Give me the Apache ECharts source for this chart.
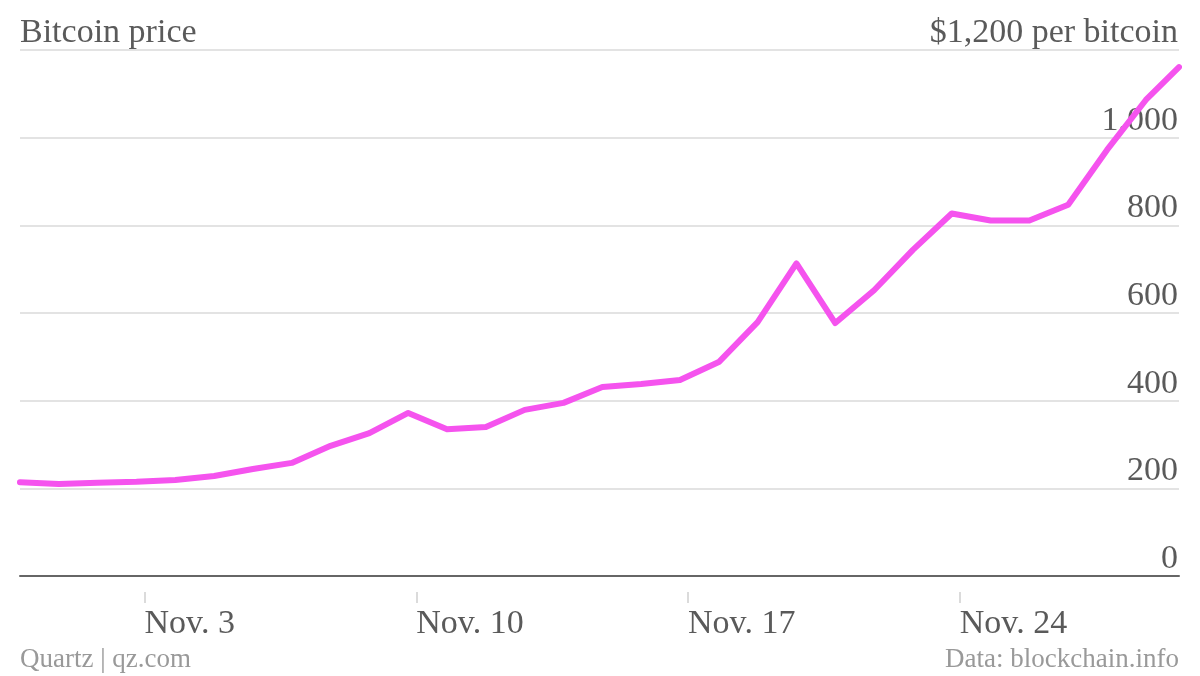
<!DOCTYPE html>
<html>
<head>
<meta charset="utf-8">
<script src="https://cdn.jsdelivr.net/npm/echarts@6/dist/echarts.min.js"></script>
<style>
  html, body { margin: 0; padding: 0; background: #fff; }
  #chart { width: 1200px; height: 676px; }
</style>
</head>
<body>
<div id="chart"></div>
<script>
// Observation times (UTC); the last one is an intraday reading
var dates = [
  '2013-10-31T00:00Z','2013-11-01T00:00Z','2013-11-02T00:00Z','2013-11-03T00:00Z',
  '2013-11-04T00:00Z','2013-11-05T00:00Z','2013-11-06T00:00Z','2013-11-07T00:00Z',
  '2013-11-08T00:00Z','2013-11-09T00:00Z','2013-11-10T00:00Z','2013-11-11T00:00Z',
  '2013-11-12T00:00Z','2013-11-13T00:00Z','2013-11-14T00:00Z','2013-11-15T00:00Z',
  '2013-11-16T00:00Z','2013-11-17T00:00Z','2013-11-18T00:00Z','2013-11-19T00:00Z',
  '2013-11-20T00:00Z','2013-11-21T00:00Z','2013-11-22T00:00Z','2013-11-23T00:00Z',
  '2013-11-24T00:00Z','2013-11-25T00:00Z','2013-11-26T00:00Z','2013-11-27T00:00Z',
  '2013-11-28T00:00Z','2013-11-29T00:00Z','2013-11-29T20:30Z'
];
// Bitcoin price, USD
var prices = [
  214, 210, 213, 215, 219, 228, 244, 258, 297, 326,
  372, 335, 340, 379, 395, 431, 438, 447, 488, 579,
  713, 577, 652, 744, 827, 811, 811, 847, 972, 1086,
  1161
];
// X tick dates (local midnight, US Eastern) and their labels
var tickDates = ['2013-11-03T05:00Z','2013-11-10T05:00Z','2013-11-17T05:00Z','2013-11-24T05:00Z'];
var tickLabels = ['Nov. 3','Nov. 10','Nov. 17','Nov. 24'];
// Y ticks
var yTicks = [0, 200, 400, 600, 800, 1000, 1200];
var yTickLabels = ['0', '200', '400', '600', '800', '1,000', '$1,200 per bitcoin'];

var DAY = 86400000;
function toDay(s) { return Date.parse(s) / DAY; }
var xs = dates.map(toDay);
var seriesData = xs.map(function (x, i) { return [x, prices[i]]; });
var tickVals = tickDates.map(toDay);
var xMin = xs[0], xMax = xs[xs.length - 1];

var FONT = '"Liberation Serif", "DejaVu Serif", serif';
var chart = echarts.init(document.getElementById('chart'), null, { renderer: 'canvas' });
chart.setOption({
  backgroundColor: '#ffffff',
  animation: false,
  title: [
    { text: 'Bitcoin price', left: 20, top: 16, padding: 0,
      textStyle: { fontFamily: FONT, fontSize: 34, fontWeight: 'normal', color: '#5a5a5a' } },
    { text: 'Quartz | qz.com', left: 20, top: 646, padding: 0,
      textStyle: { fontFamily: FONT, fontSize: 27, fontWeight: 'normal', color: '#999999' } },
    { text: 'Data: blockchain.info', right: 21, top: 646, padding: 0,
      textStyle: { fontFamily: FONT, fontSize: 27, fontWeight: 'normal', color: '#999999' } }
  ],
  grid: { left: 20, right: 21, top: 50, bottom: 100, containLabel: false },
  xAxis: [
    { type: 'value', min: xMin, max: xMax,
      axisLine: { show: true, lineStyle: { color: '#666666', width: 2 } },
      axisTick: { show: false }, axisLabel: { show: false }, splitLine: { show: false } },
    { type: 'value', min: xMin, max: xMax, position: 'bottom', offset: 16,
      axisLine: { show: false },
      axisTick: { show: true, customValues: tickVals, length: 11, lineStyle: { color: '#d0d0d0', width: 1.5 } },
      axisLabel: { show: true, customValues: tickVals, align: 'left', margin: 15,
        fontFamily: FONT, fontSize: 34, color: '#5a5a5a',
        formatter: function (v) {
          var best = 0, d = Infinity;
          tickVals.forEach(function (t, i) { if (Math.abs(t - v) < d) { d = Math.abs(t - v); best = i; } });
          return tickLabels[best];
        } },
      splitLine: { show: false } }
  ],
  yAxis: {
    type: 'value', position: 'right', min: 0, max: 1200, interval: 200,
    axisLine: { show: false }, axisTick: { show: false },
    axisLabel: { inside: true, align: 'right', verticalAlign: 'bottom', margin: 1,
      fontFamily: FONT, fontSize: 34, color: '#5a5a5a',
      formatter: function (v) { var i = yTicks.indexOf(v); return i >= 0 ? yTickLabels[i] : ''; } },
    splitLine: { show: true, lineStyle: { color: '#e3e3e3', width: 2 } }
  },
  series: [{
    type: 'line', xAxisIndex: 0, data: seriesData,
    showSymbol: false, symbol: 'none', smooth: false,
    lineStyle: { color: '#f553ee', width: 6, cap: 'round', join: 'round' },
    z: 3
  }]
});
</script>
</body>
</html>
